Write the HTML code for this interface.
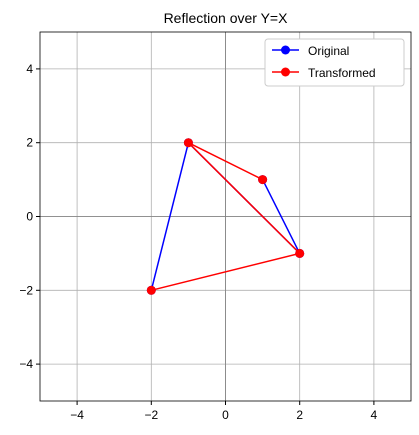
<!DOCTYPE html>
<html><head><meta charset="utf-8"><style>
body{margin:0;background:#fff;}
svg{display:block;font-family:"Liberation Sans","DejaVu Sans",sans-serif;}
</style></head><body>
<svg id="chart" width="419" height="435">
<text x="225.5" y="23" text-anchor="middle" font-size="14">Reflection over Y=X</text>
<g id="grid"></g><g id="axes"></g><g id="series"></g>
<g>
<rect x="265" y="39" width="139" height="47" fill="#fff" stroke="#ccc" rx="3"/>
<line x1="272" y1="50" x2="299" y2="50" stroke="blue" stroke-width="1.5"/><circle cx="285.5" cy="50" r="4.5" fill="blue"/>
<text x="308" y="55" font-size="12">Original</text>
<line x1="272" y1="72" x2="299" y2="72" stroke="red" stroke-width="1.5"/><circle cx="285.5" cy="72" r="4.5" fill="red"/>
<text x="308" y="77" font-size="12">Transformed</text>
</g>
</svg>
<script>
const xTicks=[-4,-2,0,2,4];
const yTicks=[-4,-2,0,2,4];
const origX=[-2,-1,2,1];
const origY=[-2,2,-1,1];
const transX=[-2,2,-1,1];
const transY=[-2,-1,2,1];
const L=40,R=411,T=32,B=401;
const sx=v=>L+(v+5)/10*(R-L), sy=v=>B-(v+5)/10*(B-T);
const NS="http://www.w3.org/2000/svg";
function mk(p,t,a){const e=document.createElementNS(NS,t);for(const k in a)e.setAttribute(k,a[k]);p.appendChild(e);return e;}
const grid=document.getElementById('grid'),axes=document.getElementById('axes'),ser=document.getElementById('series');
xTicks.forEach(v=>{const x=sx(v);
const g=mk(grid,'line',{x1:x,x2:x,y1:T,y2:B,stroke:'#b0b0b0','stroke-width':0.8});


mk(axes,'line',{x1:x,x2:x,y1:B,y2:B+4,stroke:'#000'});
const t=mk(axes,'text',{x:x,y:B+18,'text-anchor':'middle','font-size':12});t.textContent=v<0?'\u2212'+(-v):v;

});
yTicks.forEach(v=>{const y=sy(v);
const g=mk(grid,'line',{x1:L,x2:R,y1:y,y2:y,stroke:'#b0b0b0','stroke-width':0.8});


mk(axes,'line',{x1:L-4,x2:L,y1:y,y2:y,stroke:'#000'});
const t=mk(axes,'text',{x:L-7,y:y+4,'text-anchor':'end','font-size':12});t.textContent=v<0?'\u2212'+(-v):v;

});
mk(grid,'line',{x1:L,x2:R,y1:sy(0),y2:sy(0),stroke:'#808080','stroke-width':0.8});
mk(grid,'line',{x1:sx(0),x2:sx(0),y1:T,y2:B,stroke:'#808080','stroke-width':0.8});
mk(axes,'rect',{x:L,y:T,width:R-L,height:B-T,fill:'none',stroke:'#000','stroke-width':0.8});
function draw(xs,ys,c,name){
const p=mk(ser,'polyline',{points:xs.map((x,i)=>sx(x)+','+sy(ys[i])).join(' '),fill:'none',stroke:c,'stroke-width':1.5});


xs.forEach((x,i)=>{const m=mk(ser,'circle',{cx:sx(x),cy:sy(ys[i]),r:4.5,fill:c});

});}
draw(origX,origY,'blue','original');
draw(transX,transY,'red','transformed');
</script>
</body></html>
